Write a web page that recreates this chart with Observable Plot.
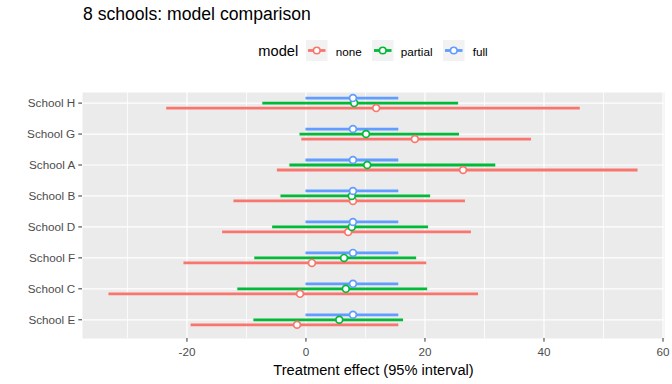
<!DOCTYPE html>
<html><head><meta charset="utf-8">
<script src="https://cdn.jsdelivr.net/npm/d3@7"></script>
<script src="https://cdn.jsdelivr.net/npm/@observablehq/plot@0.6"></script>
<style>
html,body{margin:0;padding:0;background:#fff;}
#wrap{position:relative;width:672px;height:384px;font-family:"Liberation Sans",Arial,sans-serif;overflow:hidden;}
#chart{position:absolute;left:0;top:0;}
#title{position:absolute;left:83px;top:6px;font-size:17.6px;line-height:1;color:#000;white-space:nowrap;}
.lg{position:absolute;white-space:nowrap;line-height:1;color:#000;}
.lg svg{display:block;}
</style></head><body>
<div id="wrap"><div id="chart"></div><div id="title">8 schools: model comparison</div><div id="legend"></div></div>
<script>
// ---- data ----
const schools = ["School H","School G","School A","School B","School D","School F","School C","School E"];
const models = ["none","partial","full"];
const modelColors = ["#F8766D","#00BA38","#619CFF"];

const noneEst = [11.8, 18.3, 26.4, 7.9, 7.1, 1.0, -1.0, -1.5];
const noneLo  = [-23.4, -0.7, -4.8, -12.1, -14.0, -20.5, -33.1, -19.3];
const noneHi  = [46.1, 37.9, 55.8, 26.8, 27.8, 20.3, 29.0, 15.6];

const partialEst = [8.1, 10.1, 10.3, 7.7, 7.7, 6.4, 6.7, 5.6];
const partialLo  = [-7.25, -1.0, -2.7, -4.2, -5.6, -8.6, -11.45, -8.75];
const partialHi  = [25.65, 25.8, 31.9, 20.95, 20.6, 18.6, 20.45, 16.4];

const fullEst = [7.9, 7.9, 7.9, 7.9, 7.9, 7.9, 7.9, 7.9];
const fullLo  = [0.0, 0.0, 0.0, 0.0, 0.0, 0.0, 0.0, 0.0];
const fullHi  = [15.6, 15.6, 15.6, 15.6, 15.6, 15.6, 15.6, 15.6];

const xTicks = [-20, 0, 20, 40, 60];
const xMinorTicks = [-30, -10, 10, 30, 50];
const xLabel = "Treatment effect (95% interval)";
const titleText = "8 schools: model comparison";
const legendTitle = "model";

// ---- build table ----
const series = {
  none: {est: noneEst, lo: noneLo, hi: noneHi},
  partial: {est: partialEst, lo: partialLo, hi: partialHi},
  full: {est: fullEst, lo: fullLo, hi: fullHi}
};
const rows = [];
models.forEach(m => schools.forEach((s, i) => rows.push({
  school: s, model: m, est: series[m].est[i], lo: series[m].lo[i], hi: series[m].hi[i]
})));

// dodge offsets in pixels (style)
const dodge = {none: 5, partial: 0, full: -5};
const colorChannel = {value: "model", scale: "color"};

const plot = Plot.plot({
  width: 672, height: 384,
  marginLeft: 82, marginRight: 8, marginTop: 92, marginBottom: 46,
  style: {fontFamily: '"Liberation Sans", Arial, sans-serif', background: "transparent", overflow: "visible"},
  x: {domain: [-37.55, 60.25], label: null},
  y: {type: "point", domain: schools, range: [102.6, 319.3], padding: 0, round: false, label: null},
  color: {type: "ordinal", domain: models, range: modelColors},
  marks: [
    Plot.frame({fill: "#EBEBEB", stroke: null}),
    Plot.gridX(xMinorTicks, {stroke: "white", strokeOpacity: 1, strokeWidth: 0.8}),
    Plot.gridX(xTicks, {stroke: "white", strokeOpacity: 1, strokeWidth: 1.2}),
    Plot.gridY(schools, {stroke: "white", strokeOpacity: 1, strokeWidth: 1.2}),
    Plot.axisX(xTicks, {tickSize: 3.7, tickPadding: 5.5, fontSize: 11.7, fill: "#4D4D4D", stroke: "#333333", label: null, tickFormat: d => String(d)}),
    Plot.axisY(schools, {tickSize: 3.7, tickPadding: 3.6, fontSize: 11.7, fill: "#4D4D4D", stroke: "#333333", label: null}),
    ...models.map(m => Plot.ruleY(rows.filter(r => r.model === m), {
      y: "school", x1: "lo", x2: "hi", stroke: colorChannel, strokeWidth: 2.8, dy: dodge[m]
    })),
    ...models.map(m => Plot.dot(rows.filter(r => r.model === m), {
      y: "school", x: "est", stroke: colorChannel, fill: "white", r: 3.4, strokeWidth: 1.7, dy: dodge[m]
    })),
    Plot.text([xLabel], {frameAnchor: "bottom", dy: 36, fontSize: 14.67, fill: "black", lineAnchor: "bottom"})
  ]
});
document.getElementById("chart").appendChild(plot);
document.getElementById("title").textContent = titleText;

// ---- legend ----
const colorScale = plot.scale("color");
const lg = document.getElementById("legend");
const t = document.createElement("div");
t.className = "lg"; t.textContent = legendTitle;
t.style.left = "258.3px"; t.style.top = "44.3px"; t.style.fontSize = "14.67px";
lg.appendChild(t);
const keyX = [306, 372.3, 443.3];
const labelX = [335.7, 400.7, 472.7];
models.forEach((m, i) => {
  const c = colorScale.apply(m);
  const k = document.createElement("div");
  k.className = "lg"; k.style.left = keyX[i] + "px"; k.style.top = "39.5px";
  k.innerHTML = `<svg width="21.5" height="21" viewBox="0 0 21.5 21">
    <rect width="21.5" height="21" fill="#F2F2F2"/>
    <line x1="2" x2="19.5" y1="10.5" y2="10.5" stroke="${c}" stroke-width="2.8"/>
    <circle cx="10.75" cy="10.5" r="3.3" fill="white" stroke="${c}" stroke-width="1.6"/></svg>`;
  lg.appendChild(k);
  const l = document.createElement("div");
  l.className = "lg"; l.textContent = m;
  l.style.left = labelX[i] + "px"; l.style.top = "46.1px"; l.style.fontSize = "11.7px";
  lg.appendChild(l);
});
</script>
</body></html>
